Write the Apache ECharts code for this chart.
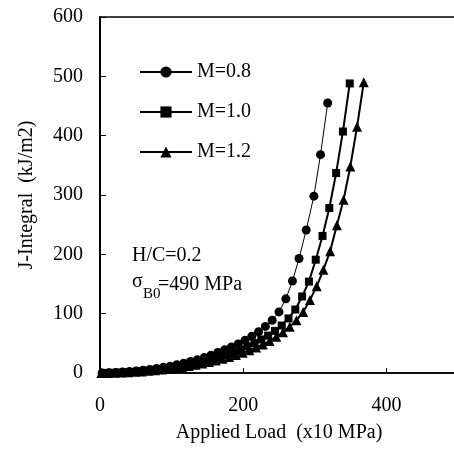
<!DOCTYPE html>
<html><head><meta charset="utf-8">
<script src="https://cdn.jsdelivr.net/npm/echarts@6/dist/echarts.min.js"></script>
<style>html,body{margin:0;padding:0;background:#fff}#c{width:454px;height:450px}</style>
</head><body><div id="c"></div>
<script>
const seriesNames = ['M=0.8', 'M=1.0', 'M=1.2'];
const load08 = [3, 12.5, 22, 31.5, 41, 50.5, 60, 69.5, 79, 88.5, 98, 107.5, 117, 126.5, 136, 145.5, 155, 164.5, 174, 183.5, 193, 202.5, 212, 221.5, 231, 240.5, 250, 259.6, 268.8, 278, 288, 298.7, 308, 318];
const j08 = [0.1, 0.4, 0.9, 1.6, 2.4, 3.4, 4.6, 6, 7.5, 9.5, 11.5, 14, 16.5, 19.5, 22.5, 26, 30, 34.5, 39, 44, 49, 55, 62, 69.5, 78.5, 89, 103, 125, 155, 193, 241, 298, 368, 455];
const load10 = [6.8, 16.3, 25.8, 35.3, 44.8, 54.3, 63.8, 73.3, 82.8, 92.3, 101.8, 111.3, 120.8, 130.3, 139.8, 149.3, 158.8, 168.3, 177.8, 187.3, 196.8, 206.3, 215.8, 225.3, 234.8, 244.3, 253.8, 263.3, 272.8, 282.3, 291.8, 301.3, 310.8, 320.3, 329.8, 339.3, 348.8];
const j10 = [0.1, 0.4, 0.8, 1.3, 2, 2.8, 3.8, 4.9, 6.2, 7.7, 9.4, 11.3, 13.5, 16, 18.5, 21.5, 24.5, 28, 31.5, 35.5, 40, 45, 50.5, 56.5, 63, 71, 80, 92, 107, 129, 154, 191, 231, 278, 337, 407, 488];
const load12 = [1.8, 11.2, 20.6, 30, 39.4, 48.8, 58.2, 67.6, 77, 86.4, 95.8, 105.2, 114.6, 124, 133.4, 142.8, 152.2, 161.6, 171, 180.4, 189.8, 199.2, 208.6, 218, 227.4, 236.8, 246.2, 255.6, 265, 274.4, 283.8, 293.2, 302.6, 312, 321.4, 330.8, 340.2, 349.6, 359, 368.4];
const j12 = [0, 0.2, 0.4, 0.8, 1.3, 1.9, 2.7, 3.6, 4.6, 5.8, 7.1, 8.6, 10.2, 12, 14, 16, 18.5, 21, 24, 27, 30.5, 34, 38.5, 43, 48, 54, 61, 68.5, 78, 89, 103, 123, 146, 174, 205, 249, 292, 348, 415, 490];
const xTitle = 'Applied Load  (x10 MPa)';
const yTitle = 'J-Integral  (kJ/m2)';
const note1 = 'H/C=0.2';

const FONT = '"Liberation Serif", "Times New Roman", serif';
const zip = (xs, ys) => xs.map((x, i) => [x, ys[i]]);

const chart = echarts.init(document.getElementById('c'), null, {renderer: 'canvas'});
chart.setOption({
  animation: false,
  backgroundColor: '#fff',
  grid: {left: 100, top: 17, width: 358, height: 356, show: true, borderColor: '#000', borderWidth: 1.5,
         containLabel: false, outerBoundsMode: 'none'},
  xAxis: {
    type: 'value', min: 0, max: 500, interval: 200,
    name: xTitle, nameLocation: 'middle', nameGap: 50,
    nameTextStyle: {fontFamily: FONT, fontSize: 20, color: '#000'},
    axisLine: {onZero: false, lineStyle: {color: '#000', width: 1.5}},
    axisTick: {inside: true, length: 5, lineStyle: {color: '#000'}},
    axisLabel: {fontFamily: FONT, fontSize: 20, color: '#000', margin: 23, showMaxLabel: false},
    splitLine: {show: false}
  },
  yAxis: {
    type: 'value', min: 0, max: 600, interval: 100,
    name: yTitle, nameLocation: 'middle', nameGap: 63, nameRotate: 90,
    nameTextStyle: {fontFamily: FONT, fontSize: 20, color: '#000'},
    axisLine: {onZero: false, lineStyle: {color: '#000', width: 2}},
    axisTick: {inside: true, length: 6, lineStyle: {color: '#000'}},
    axisLabel: {fontFamily: FONT, fontSize: 20, color: '#000', margin: 17},
    splitLine: {show: false}
  },
  legend: {
    orient: 'vertical', left: 139, top: 62, padding: 0, itemWidth: 52, itemHeight: 14, itemGap: 20,
    textStyle: {fontFamily: FONT, fontSize: 20, color: '#000', lineHeight: 20},
    data: seriesNames
  },
  series: [
    {name: seriesNames[0], type: 'line', data: zip(load08, j08), symbol: 'circle', symbolSize: 9,
     lineStyle: {color: '#000', width: 1}, itemStyle: {color: '#000'}, z: 3},
    {name: seriesNames[1], type: 'line', data: zip(load10, j10), symbol: 'rect', symbolSize: 8,
     lineStyle: {color: '#000', width: 2}, itemStyle: {color: '#000'}, z: 2},
    {name: seriesNames[2], type: 'line', data: zip(load12, j12), symbol: 'triangle', symbolSize: 10,
     lineStyle: {color: '#000', width: 2}, itemStyle: {color: '#000'}, z: 1}
  ],
  graphic: [
    {type: 'text', left: 132, top: 246, style: {text: note1, font: '20px ' + FONT, fill: '#000'}},
    {type: 'text', left: 132, top: 272, style: {text: 'σ', font: '20px ' + FONT, fill: '#000'}},
    {type: 'text', left: 143, top: 287, style: {text: 'B0', font: '15px ' + FONT, fill: '#000'}},
    {type: 'text', left: 158, top: 275, style: {text: '=490 MPa', font: '20px ' + FONT, fill: '#000'}}
  ]
});
</script></body></html>
